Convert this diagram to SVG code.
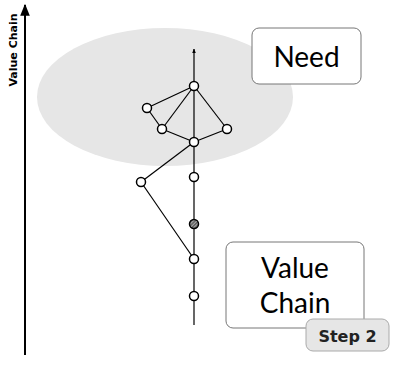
<svg xmlns="http://www.w3.org/2000/svg" width="400" height="385" viewBox="0 0 400 385">
<style>
.n{fill:#fff;stroke:#000;stroke-width:1.5}
.e{stroke:#000;stroke-width:1.2;fill:none}
.big{font-family:Lato,"Open Sans",sans-serif;font-size:28px;fill:#000;text-anchor:middle}
</style>
<defs>
<marker id="ah" viewBox="0 0 10 10" refX="9" refY="5" markerWidth="6" markerHeight="6" orient="auto"><path d="M0,1 L10,5 L0,9 z" fill="#000"/></marker>
<marker id="ah2" viewBox="0 0 10 10" refX="9" refY="5" markerWidth="4" markerHeight="4" orient="auto"><path d="M0,1 L10,5 L0,9 z" fill="#000"/></marker>
<pattern id="hatch" width="2.5" height="2.5" patternUnits="userSpaceOnUse" patternTransform="rotate(45)"><rect width="2.5" height="2.5" fill="#666"/><line x1="0" y1="0" x2="0" y2="2.5" stroke="#ddd" stroke-width="1"/></pattern>
</defs>
<ellipse cx="165" cy="97" rx="128" ry="69" fill="#e6e6e6"/>
<g id="axis">
<line x1="25" y1="355" x2="25" y2="5" stroke="#000" stroke-width="2" marker-end="url(#ah)"/>
<text x="0" y="0" transform="translate(17,50) rotate(-90)" font-family="DejaVu Sans,sans-serif" font-weight="bold" font-size="11" text-anchor="middle">Value Chain</text>
</g>
<g id="connectors">
<line class="e" x1="194" y1="325" x2="194" y2="49" marker-end="url(#ah2)"/>
<line class="e" x1="194" y1="86" x2="147" y2="108"/>
<line class="e" x1="194" y1="86" x2="162" y2="129"/>
<line class="e" x1="194" y1="86" x2="227" y2="129"/>
<line class="e" x1="147" y1="108" x2="162" y2="129"/>
<line class="e" x1="162" y1="129" x2="194" y2="142"/>
<line class="e" x1="227" y1="129" x2="194" y2="142"/>
<line class="e" x1="194" y1="142" x2="141" y2="182"/>
<line class="e" x1="141" y1="182" x2="194" y2="259"/>
</g>
<g id="n1"><circle class="n" cx="194" cy="86" r="4.5"/></g>
<g id="n2"><circle class="n" cx="147" cy="108" r="4.5"/></g>
<g id="n3"><circle class="n" cx="162" cy="129" r="4.5"/></g>
<g id="n4"><circle class="n" cx="227" cy="129" r="4.5"/></g>
<g id="n5"><circle class="n" cx="194" cy="142" r="4.5"/></g>
<g id="n6"><circle class="n" cx="141" cy="182" r="4.5"/></g>
<g id="n7"><circle class="n" cx="194" cy="177" r="4.5"/></g>
<g id="n8"><circle cx="194" cy="224" r="4.5" fill="url(#hatch)" stroke="#000" stroke-width="1.5"/></g>
<g id="n9"><circle class="n" cx="194" cy="259" r="4.5"/></g>
<g id="n10"><circle class="n" cx="194" cy="296" r="4.5"/></g>
<g id="need">
<rect x="252" y="28" width="109" height="56" rx="7" fill="#fff" stroke="#777" stroke-width="1"/>
<text class="big" x="306.5" y="67">Need</text>
</g>
<g id="valuechain">
<rect x="226" y="242" width="138" height="86" rx="7" fill="#fff" stroke="#777" stroke-width="1"/>
<text class="big" x="295" y="278">Value</text>
<text class="big" x="295" y="313">Chain</text>
</g>
<g id="step2">
<rect x="306" y="319" width="83" height="32" rx="7" fill="#e6e6e6" stroke="#aaa" stroke-width="1"/>
<text x="347.5" y="341.5" font-family="DejaVu Sans,sans-serif" font-weight="bold" font-size="16" text-anchor="middle" fill="#222">Step 2</text>
</g>
</svg>
